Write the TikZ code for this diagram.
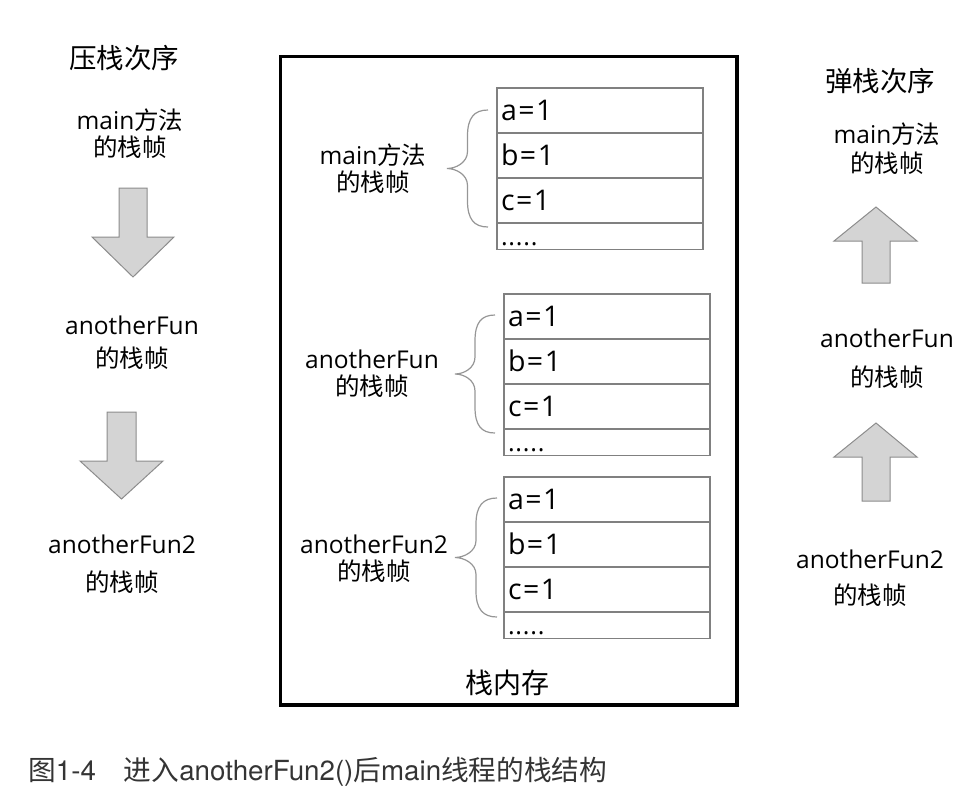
\documentclass[tikz,border=0pt]{standalone}
\usepackage{fontspec}
\setmainfont{Open Sans}
\newfontfamily\cjkfont{Noto Sans CJK SC}
\newfontfamily\caplat{TeX Gyre Heros}
\newcommand{\zhs}[1]{{\cjkfont #1}}
\newcommand{\eqv}[1]{#1\kern1.5pt=\kern1.5pt1}
\definecolor{cellgray}{RGB}{128,128,128}
\definecolor{bracegray}{RGB}{150,150,150}
\definecolor{arrowfill}{RGB}{212,212,212}
\definecolor{arrowedge}{RGB}{140,140,140}
\definecolor{capgray}{RGB}{52,52,52}
\newcommand{\stackframe}[3]{%
  \node[cell, minimum height=45pt] (#1a) at (#2,#3) {\eqv{a}};
  \node[cell, minimum height=45pt] (#1b) at (#1a.south west) {\eqv{b}};
  \node[cell, minimum height=45pt] (#1c) at (#1b.south west) {\eqv{c}};
  \node[cell, minimum height=26.5pt, font=\fontsize{25}{26}\selectfont, text height=18.5pt] (#1d) at (#1c.south west) {.\kern0.8pt.\kern0.8pt.\kern0.8pt.\kern0.8pt.};
}
\newcommand{\stackbrace}[4]{%
  \pgfmathsetmacro\brM{(#1+#2)/2}%
  \pgfmathsetmacro\brC{(#3+#4)/2}%
  \draw[braceline] (#2,#3) .. controls ({#2-14},#3) and (\brM,{#3+8}) .. (\brM,{#3+26})
    -- (\brM,{\brC-17}) .. controls (\brM,{\brC-6}) and ({#1+9},\brC) .. (#1,\brC)
    .. controls ({#1+9},\brC) and (\brM,{\brC+6}) .. (\brM,{\brC+17})
    -- (\brM,{#4-26}) .. controls (\brM,{#4-8}) and ({#2-14},#4) .. (#2,#4);
}
\begin{document}
\begin{tikzpicture}[x=1pt,y=-1pt,
  lbl/.style={font=\fontsize{24.5}{27}\selectfont, align=center, inner sep=0pt},
  ttl/.style={font=\fontsize{27.5}{30}\selectfont\cjkfont, inner sep=0pt},
  cell/.style={draw=cellgray, line width=1.3pt, anchor=north west, outer sep=0pt,
    minimum width=206pt, text width=198pt, inner xsep=4pt, inner ysep=0pt,
    align=left, font=\fontsize{28.5}{30}\selectfont, text height=20.5pt, text depth=0pt},
  memframe/.style={draw=black, line width=3.5pt, outer sep=0pt, inner sep=0pt},
  braceline/.style={draw=bracegray, line width=1.2pt},
  blockarrow/.style={draw=arrowedge, fill=arrowfill, line width=1pt, line join=miter}]
\useasboundingbox (0,0) rectangle (964,804);

% stack memory frame
\node[memframe, anchor=north west, minimum width=456.5pt, minimum height=648.5pt] (mem) at (280.5,56.5) {};
\node[ttl, font=\fontsize{28}{30}\selectfont\cjkfont] (memlbl) at (507,683) {栈内存};

% frames
\stackframe{fa}{497}{88}
\stackframe{fb}{504}{294}
\stackframe{fc}{504}{477}

\stackbrace{447}{488}{110}{227}
\stackbrace{455}{495}{315}{433}
\stackbrace{455}{497}{498}{617}

\node[lbl] (la) at (373,168.5) {main\zhs{方法}\\\zhs{的栈帧}};
\node[lbl] (lb) at (372,373.5) {anotherFun\\\zhs{的栈帧}};
\node[lbl] (lc) at (374,559) {anotherFun2\\\zhs{的栈帧}};

% push order (left)
\node[ttl] (pushttl) at (124,58) {压栈次序};
\node[lbl] (p1) at (130,133.5) {main\zhs{方法}\\\zhs{的栈帧}};
\node[lbl] (p2) at (132,342.5) {anotherFun\\[6pt]\zhs{的栈帧}};
\node[lbl] (p3) at (122,564) {anotherFun2\\[11pt]\zhs{的栈帧}};
\draw[blockarrow] (119,188) -- (147,188) -- (147,237) -- (174,237) -- (133,277) -- (92,237) -- (119,237) -- cycle;
\draw[blockarrow] (107,412) -- (136,412) -- (136,461) -- (163,461) -- (121.5,499) -- (80,461) -- (107,461) -- cycle;

% pop order (right)
\node[ttl] (popttl) at (880,81) {弹栈次序};
\node[lbl] (q1) at (887,148.5) {main\zhs{方法}\\[2pt]\zhs{的栈帧}};
\node[lbl] (q2) at (887,358.5) {anotherFun\\[12pt]\zhs{的栈帧}};
\node[lbl] (q3) at (870,578) {anotherFun2\\[9pt]\zhs{的栈帧}};
\draw[blockarrow] (862,283) -- (890,283) -- (890,241) -- (917,241) -- (876,207) -- (834,241) -- (862,241) -- cycle;
\draw[blockarrow] (862,501) -- (890,501) -- (890,457) -- (917,457) -- (876,423) -- (834,457) -- (862,457) -- cycle;

% caption
\node[anchor=west, inner sep=0pt, text=capgray, font=\fontsize{27.7}{30}\selectfont] (cap) at (28,772)
  {\zhs{图}{\caplat 1-4}\hspace{28pt}\zhs{进入}{\caplat anotherFun2()}\zhs{后}{\caplat main}\zhs{线程的栈结构}};
\end{tikzpicture}
\end{document}
